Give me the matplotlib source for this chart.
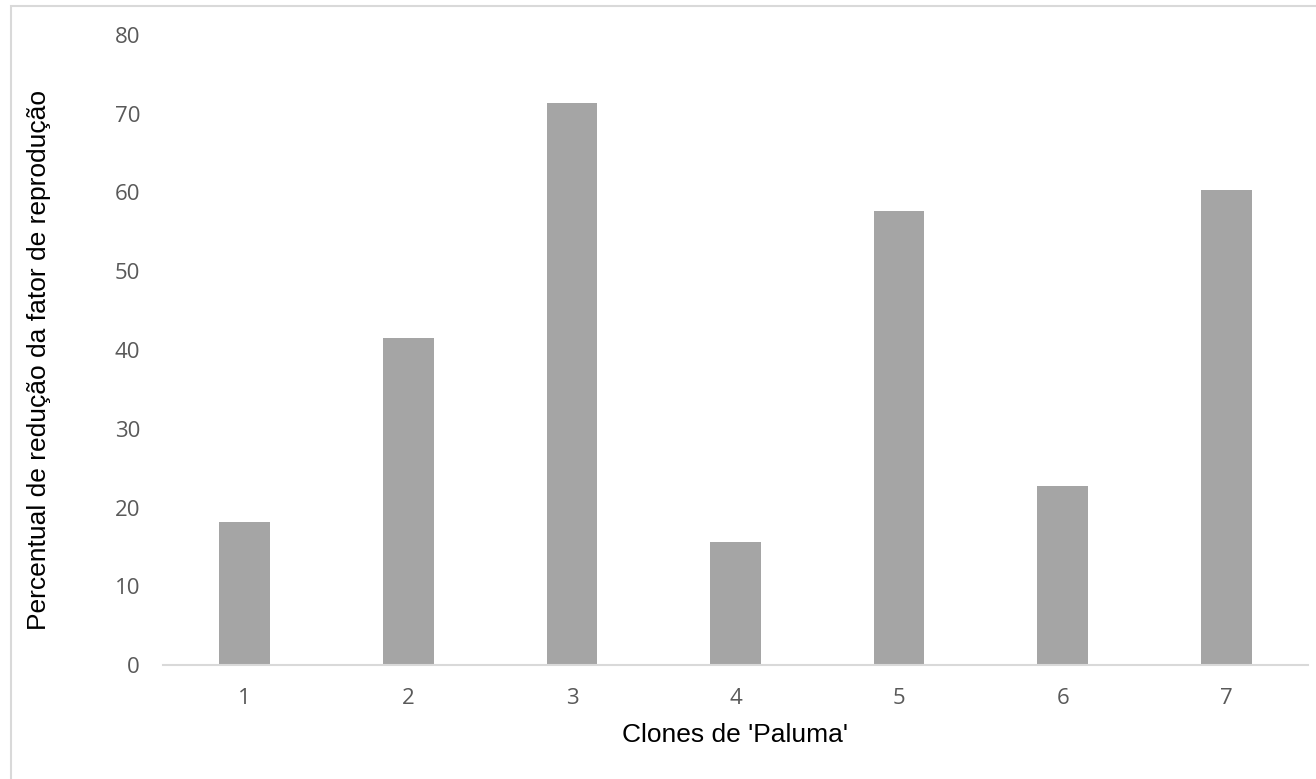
import matplotlib
matplotlib.use("Agg")
import matplotlib.pyplot as plt
from matplotlib.patches import Rectangle

categories = ["1", "2", "3", "4", "5", "6", "7"]
values = [18.1, 41.5, 71.4, 15.6, 57.6, 22.7, 60.3]
yticks = [0, 10, 20, 30, 40, 50, 60, 70, 80]

W, H = 1316, 779
fig = plt.figure(figsize=(W / 100, H / 100), dpi=100)
fig.patch.set_facecolor("white")

# outer chart frame
fig.patches.append(Rectangle((11 / W, -0.05), 1.2, (H - 6) / H + 0.05,
                             transform=fig.transFigure, fill=False,
                             edgecolor="#D9D9D9", linewidth=1.5))

ax = fig.add_axes([163 / W, (H - 665) / H, (1308 - 163) / W, (665 - 35) / H])
x = range(len(categories))
ax.bar(x, values, width=0.31, color="#A5A5A5", zorder=2)
ax.set_xlim(-0.5, len(categories) - 0.5)
ax.set_ylim(0, 80)
ax.set_yticks(yticks)
ax.set_xticks(list(x))
ax.set_xticklabels(categories)

for s in ["top", "right", "left"]:
    ax.spines[s].set_visible(False)
ax.spines["bottom"].set_color("#D9D9D9")
ax.spines["bottom"].set_linewidth(1.5)
ax.tick_params(axis="both", length=0, labelsize=16, labelcolor="#595959")
ax.tick_params(axis="y", pad=16.5)
ax.tick_params(axis="x", pad=16.5)
for lab in ax.get_xticklabels() + ax.get_yticklabels():
    lab.set_family("Open Sans")

fig.text(735.5 / W, (H - 735) / H, "Clones de 'Paluma'", ha="center", va="center",
         fontsize=19, family="Liberation Sans", color="black")
fig.text(39 / W, (H - 360) / H, "Percentual de redução da fator de reprodução",
         ha="center", va="center", rotation=90, fontsize=19,
         family="Liberation Sans", color="black")

fig.savefig("out.png", dpi=100, facecolor="white")
